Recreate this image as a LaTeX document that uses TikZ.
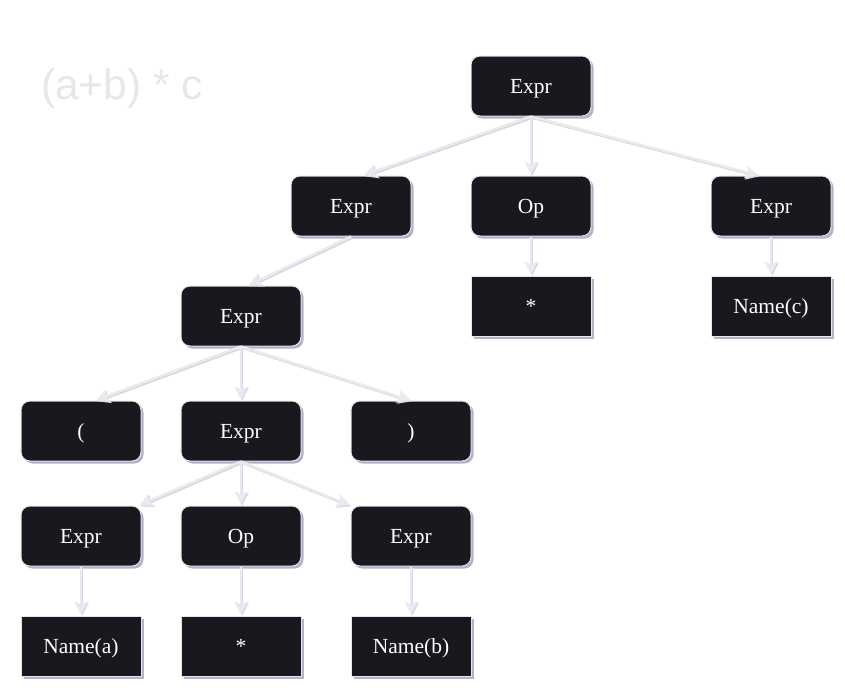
\documentclass[tikz,border=0pt]{standalone}
\usepackage{fontspec}
\setmainfont{Liberation Serif}
\newfontfamily\titlefont{Liberation Sans}
\usetikzlibrary{shadows,arrows.meta,calc}
\definecolor{nodefill}{HTML}{19181F}
\definecolor{nodeborder}{HTML}{E4E4EA}
\definecolor{shadowc}{HTML}{B2B2CC}
\definecolor{edgec}{HTML}{EAEAEE}
\definecolor{eshadowc}{HTML}{D6D6E4}
\definecolor{titlec}{HTML}{E6E6EC}
\tikzset{
  base/.style={minimum width=120pt, minimum height=60pt, inner sep=0pt,
    fill=nodefill, draw=nodeborder, line width=1pt, text=white,
    text height=15pt, text depth=0pt,
    font=\fontsize{21.5}{24}\selectfont,
    drop shadow={shadow xshift=2.5pt, shadow yshift=-2.5pt, fill=shadowc, opacity=1}},
  rnode/.style={base, rounded corners=9pt},
  snode/.style={base},
  edge/.style={draw=edgec, line width=2.5pt, -{Stealth[length=13pt,width=13pt,inset=3pt]}, shorten >=1pt},
  eshadow/.style={draw=eshadowc, line width=2.5pt, -{Stealth[length=13pt,width=13pt,inset=3pt]}, shorten >=1pt,
    transform canvas={shift={(1.2pt,-1.2pt)}}},
}
\newcommand\conn[2]{\draw[eshadow] #1 -- #2; \draw[edge] #1 -- #2;}
\begin{document}
\begin{tikzpicture}[x=1pt,y=-1pt]
\useasboundingbox (0,0) rectangle (845,691);
\node[text=titlec, font=\titlefont\fontsize{42.5}{46}\selectfont, anchor=west, inner sep=0pt] (title) at (41,88) {(a+b) * c};

\node[rnode] (E0) at (531,86) {Expr};
\node[rnode] (E1) at (351,206) {Expr};
\node[rnode] (Op1) at (531,206) {Op};
\node[rnode] (E2) at (771,206) {Expr};
\node[snode] (S1) at (531,306) {*};
\node[snode] (Nc) at (771,306) {Name(c)};
\node[rnode] (E3) at (241,316) {Expr};
\node[rnode] (LP) at (81,431) {(};
\node[rnode] (E4) at (241,431) {Expr};
\node[rnode] (RP) at (411,431) {)};
\node[rnode] (E5) at (81,536) {Expr};
\node[rnode] (Op2) at (241,536) {Op};
\node[rnode] (E6) at (411,536) {Expr};
\node[snode] (Na) at (81,646) {Name(a)};
\node[snode] (S2) at (241,646) {*};
\node[snode] (Nb) at (411,646) {Name(b)};

\conn{(E0.south)}{([xshift=12pt]E1.north)}
\conn{(E0.south)}{(Op1.north)}
\conn{(E0.south)}{([xshift=-12pt]E2.north)}
\conn{(E1.south)}{([xshift=7pt]E3.north)}
\conn{(Op1.south)}{(S1.north)}
\conn{(E2.south)}{(Nc.north)}
\conn{(E3.south)}{([xshift=14pt]LP.north)}
\conn{(E3.south)}{(E4.north)}
\conn{(E3.south)}{(RP.north)}
\conn{(E4.south)}{([xshift=-3pt]E5.north east)}
\conn{(E4.south)}{(Op2.north)}
\conn{(E4.south)}{(E6.north west)}
\conn{(E5.south)}{(Na.north)}
\conn{(Op2.south)}{(S2.north)}
\conn{(E6.south)}{(Nb.north)}
\end{tikzpicture}
\end{document}
